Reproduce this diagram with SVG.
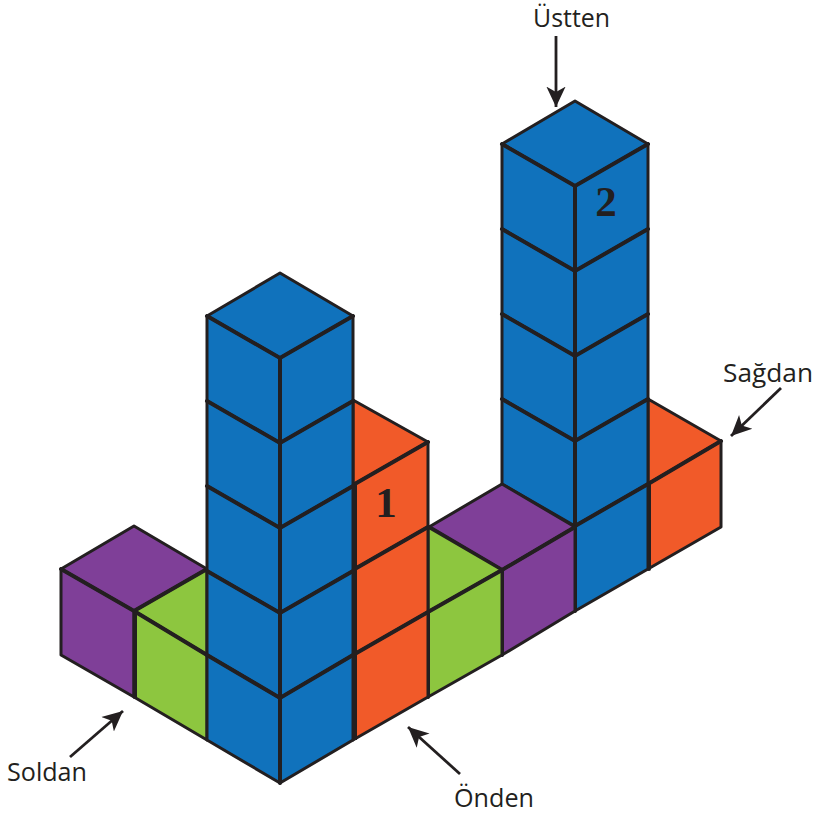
<svg xmlns="http://www.w3.org/2000/svg" width="815" height="820" viewBox="0 0 815 820">
<style>
polygon{stroke:#231f20;stroke-width:3;stroke-linejoin:round}
.b{fill:#1072bc}.o{fill:#f15a29}.p{fill:#7f3f98}.g{fill:#8dc63f}
.in{stroke:#231f20;stroke-width:4;fill:none;stroke-linecap:round}
.lbl{font-family:"Open Sans","Noto Sans",sans-serif;font-size:26px;fill:#231f20}
.num{font-family:"Liberation Serif",serif;font-weight:bold;font-size:43px;fill:#231f20;text-anchor:middle}
.arr{stroke:#231f20;stroke-width:2.800;fill:none;marker-end:url(#ah)}
</style>
<defs><marker id="ah" markerUnits="userSpaceOnUse" markerWidth="24" markerHeight="24" refX="17" refY="10" orient="auto" viewBox="0 0 20 20"><path d="M17 10L0 2L4.500 10L0 18Z" fill="#231f20"/></marker></defs>
<g id="cube-left-purple">
<polygon class="p" points="134,526 207,569 134,611 61,569"/>
<polygon class="p" points="61,569 134,611 134,697 61,655"/>
</g>
<g id="cube-left-green">
<polygon class="g" points="134,611 207,569 207,655"/>
<polygon class="g" points="134,611 207,655 207,740 134,697"/>
<path class="in" d="M61 569L134 611L207 569M134 611L207 655M135 611V697"/>
</g>
<g id="cube-right-orange">
<polygon class="o" points="648,399 721,441 648,484"/>
<polygon class="o" points="648,484 721,441 721,527 648,569"/>
<path class="in" d="M648 484L721 441M649 484V569"/>
</g>
<g id="tower-right">
<polygon class="b" points="575,101 648,144 575,186 502,144"/>
<polygon class="b" points="502,144 575,186 575,271 502,229"/>
<polygon class="b" points="502,229 575,271 575,356 502,314"/>
<polygon class="b" points="502,314 575,356 575,441 502,399"/>
<polygon class="b" points="502,399 575,441 575,526 502,484"/>
<polygon class="b" points="575,186 648,144 648,229 575,271"/>
<polygon class="b" points="575,271 648,229 648,314 575,356"/>
<polygon class="b" points="575,356 648,314 648,399 575,441"/>
<polygon class="b" points="575,441 648,399 648,484 575,526"/>
<polygon class="b" points="575,526 648,484 648,569 575,611"/>
<path class="in" d="M575 186V611M502 144L575 186L648 144M502 229L575 271L648 229M502 314L575 356L648 314M502 399L575 441L648 399M575 526L648 484"/>
<text class="num" x="606" y="216">2</text>
</g>
<g id="cube-purple">
<polygon class="p" points="502,484 575,527 502,570 429,527"/>
<polygon class="p" points="502,570 575,527 575,611 502,655"/>
<path class="in" d="M429 527L502 570L575 527M502 570V655"/>
</g>
<g id="cube-green">
<polygon class="g" points="428,527 502,570 428,612"/>
<polygon class="g" points="428,612 502,570 502,655 428,697"/>
<path class="in" d="M428 612L502 570M428 612V697"/>
</g>
<g id="column-orange">
<polygon class="o" points="353,400 428,442 353,485"/>
<polygon class="o" points="353,485 428,442 428,527 353,570"/>
<polygon class="o" points="353,570 428,527 428,612 353,655"/>
<polygon class="o" points="353,655 428,612 428,697 353,740"/>
<path class="in" d="M353 485L428 442M353 570L428 527M353 655L428 612"/>
<text class="num" x="386" y="517">1</text>
</g>
<g id="tower-left">
<polygon class="b" points="280,273 353,316 280,358 207,316"/>
<polygon class="b" points="207,316 280,358 280,443 207,401"/>
<polygon class="b" points="207,401 280,443 280,528 207,486"/>
<polygon class="b" points="207,486 280,528 280,613 207,571"/>
<polygon class="b" points="207,571 280,613 280,698 207,655"/>
<polygon class="b" points="207,655 280,698 280,783 207,740"/>
<polygon class="b" points="280,358 353,316 353,401 280,443"/>
<polygon class="b" points="280,443 353,401 353,486 280,528"/>
<polygon class="b" points="280,528 353,486 353,571 280,613"/>
<polygon class="b" points="280,613 353,571 353,655 280,698"/>
<polygon class="b" points="280,698 353,655 353,740 280,783"/>
<path class="in" d="M280 358V783M207 316L280 358L353 316M207 401L280 443L353 401M207 486L280 528L353 486M207 571L280 613L353 571M207 655L280 698L353 655"/>
<path d="M354.500 485V740" stroke="#231f20" stroke-width="5" fill="none"/>
</g>
<g id="connectors">
<path class="arr" d="M556 36V107"/>
<path class="arr" d="M781 388L731 436"/>
<path class="arr" d="M70 757L123 711"/>
<path class="arr" d="M460 774L408 727"/>
</g>
<g id="label-ustten"><text class="lbl" x="533" y="27" textLength="77" lengthAdjust="spacingAndGlyphs">Üstten</text></g>
<g id="label-sagdan"><text class="lbl" x="723" y="382" textLength="90" lengthAdjust="spacingAndGlyphs">Sağdan</text></g>
<g id="label-soldan"><text class="lbl" x="7" y="781" textLength="80" lengthAdjust="spacingAndGlyphs">Soldan</text></g>
<g id="label-onden"><text class="lbl" x="454" y="807" textLength="80" lengthAdjust="spacingAndGlyphs">Önden</text></g>
</svg>
